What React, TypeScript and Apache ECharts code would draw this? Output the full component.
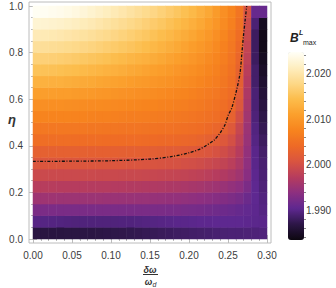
import { useEffect, useRef } from 'react';
import * as echarts from 'echarts';

// column centres (δω/ω_d) and row centres (η) of the density grid
const xCenters = [0.005, 0.015, 0.025, 0.035, 0.045, 0.055, 0.065, 0.075, 0.085, 0.095, 0.105, 0.115, 0.125, 0.135, 0.145, 0.155, 0.165, 0.175, 0.185, 0.195, 0.205, 0.215, 0.225, 0.235, 0.245, 0.255, 0.265, 0.275, 0.285, 0.295];
const etaCenters = [0.025, 0.075, 0.125, 0.175, 0.225, 0.275, 0.325, 0.375, 0.425, 0.475, 0.525, 0.575, 0.625, 0.675, 0.725, 0.775, 0.825, 0.875, 0.925, 0.975];

// B^L_max, one row per η
const r0025 = [1.9865, 1.9865, 1.9865, 1.9865, 1.9866, 1.9866, 1.9867, 1.9867, 1.9868, 1.9869, 1.987, 1.9871, 1.9872, 1.9873, 1.9875, 1.9876, 1.9878, 1.9879, 1.9881, 1.9882, 1.9884, 1.9885, 1.9886, 1.9888, 1.9889, 1.989, 1.989, 1.9891, 1.9892, 1.9893];
const r0075 = [1.9898, 1.9897, 1.9896, 1.9895, 1.9894, 1.9893, 1.9893, 1.9893, 1.9893, 1.9893, 1.9893, 1.9894, 1.9894, 1.9895, 1.9896, 1.9897, 1.9898, 1.9899, 1.99, 1.99, 1.9901, 1.9902, 1.9902, 1.9903, 1.9903, 1.9903, 1.9903, 1.9902, 1.9901, 1.99];
const r0125 = [1.9925, 1.9925, 1.9925, 1.9924, 1.9924, 1.9924, 1.9924, 1.9924, 1.9924, 1.9924, 1.9924, 1.9924, 1.9924, 1.9924, 1.9924, 1.9924, 1.9924, 1.9923, 1.9923, 1.9922, 1.9921, 1.992, 1.9918, 1.9916, 1.9914, 1.9912, 1.9909, 1.9906, 1.9902, 1.9897];
const r0175 = [1.9952, 1.9952, 1.9952, 1.9951, 1.9951, 1.9951, 1.995, 1.995, 1.995, 1.9949, 1.9949, 1.9948, 1.9948, 1.9947, 1.9947, 1.9946, 1.9945, 1.9944, 1.9943, 1.9942, 1.994, 1.9938, 1.9936, 1.9933, 1.993, 1.9926, 1.9922, 1.9913, 1.9903, 1.9895];
const r0225 = [1.9973, 1.9973, 1.9973, 1.9972, 1.9972, 1.9972, 1.9972, 1.9971, 1.9971, 1.9971, 1.997, 1.997, 1.9969, 1.9969, 1.9968, 1.9967, 1.9966, 1.9965, 1.9964, 1.9962, 1.996, 1.9958, 1.9955, 1.9952, 1.9948, 1.9943, 1.9938, 1.9925, 1.9903, 1.9892];
const r0275 = [1.9992, 1.9992, 1.9992, 1.9992, 1.9992, 1.9992, 1.9992, 1.9992, 1.9991, 1.9991, 1.9991, 1.999, 1.999, 1.999, 1.9989, 1.9988, 1.9987, 1.9986, 1.9985, 1.9983, 1.9981, 1.9979, 1.9976, 1.9972, 1.9968, 1.9962, 1.9954, 1.9935, 1.9902, 1.989];
const r0325 = [2.001, 2.001, 2.001, 2.001, 2.001, 2.001, 2.001, 2.001, 2.001, 2.0009, 2.0009, 2.0009, 2.0008, 2.0008, 2.0007, 2.0006, 2.0005, 2.0004, 2.0003, 2.0001, 1.9999, 1.9996, 1.9992, 1.9988, 1.9983, 1.9976, 1.9964, 1.994, 1.99, 1.9888];
const r0375 = [2.0027, 2.0027, 2.0027, 2.0027, 2.0027, 2.0027, 2.0027, 2.0026, 2.0026, 2.0026, 2.0026, 2.0025, 2.0025, 2.0025, 2.0024, 2.0023, 2.0022, 2.0021, 2.002, 2.0018, 2.0016, 2.0013, 2.0009, 2.0004, 1.9997, 1.9988, 1.9972, 1.9943, 1.99, 1.9885];
const r0425 = [2.0046, 2.0046, 2.0046, 2.0046, 2.0046, 2.0045, 2.0045, 2.0045, 2.0045, 2.0044, 2.0044, 2.0044, 2.0043, 2.0043, 2.0042, 2.0041, 2.004, 2.0039, 2.0038, 2.0036, 2.0034, 2.0031, 2.0027, 2.0021, 2.0013, 2.0001, 1.998, 1.9947, 1.9897, 1.988];
const r0475 = [2.006, 2.006, 2.006, 2.006, 2.0059, 2.0059, 2.0059, 2.0058, 2.0058, 2.0057, 2.0057, 2.0056, 2.0055, 2.0055, 2.0054, 2.0053, 2.0052, 2.0051, 2.005, 2.0048, 2.0046, 2.0044, 2.004, 2.0035, 2.0027, 2.0015, 1.9988, 1.995, 1.9895, 1.9875];
const r0525 = [2.0076, 2.0076, 2.0076, 2.0075, 2.0075, 2.0074, 2.0074, 2.0073, 2.0072, 2.0071, 2.007, 2.0069, 2.0068, 2.0067, 2.0066, 2.0065, 2.0063, 2.0062, 2.006, 2.0058, 2.0056, 2.0053, 2.005, 2.0046, 2.004, 2.0028, 2.0, 1.9955, 1.9892, 1.987];
const r0575 = [2.009, 2.009, 2.0089, 2.0089, 2.0088, 2.0087, 2.0086, 2.0085, 2.0084, 2.0083, 2.0082, 2.008, 2.0079, 2.0078, 2.0076, 2.0075, 2.0073, 2.0071, 2.0069, 2.0067, 2.0064, 2.0061, 2.0057, 2.0052, 2.0046, 2.0037, 2.0012, 1.996, 1.989, 1.9865];
const r0625 = [2.011, 2.0109, 2.0109, 2.0108, 2.0107, 2.0105, 2.0104, 2.0102, 2.01, 2.0098, 2.0096, 2.0094, 2.0092, 2.009, 2.0088, 2.0086, 2.0083, 2.0081, 2.0078, 2.0075, 2.0072, 2.0068, 2.0064, 2.0059, 2.0052, 2.0043, 2.002, 1.9965, 1.989, 1.986];
const r0675 = [2.0132, 2.0131, 2.013, 2.0129, 2.0127, 2.0125, 2.0123, 2.0121, 2.0118, 2.0116, 2.0113, 2.0111, 2.0108, 2.0105, 2.0102, 2.0099, 2.0096, 2.0093, 2.0089, 2.0086, 2.0082, 2.0077, 2.0072, 2.0066, 2.0058, 2.0048, 2.0025, 1.997, 1.9885, 1.9855];
const r0725 = [2.0152, 2.0151, 2.015, 2.0148, 2.0146, 2.0144, 2.0141, 2.0138, 2.0135, 2.0132, 2.0129, 2.0126, 2.0122, 2.0119, 2.0115, 2.0111, 2.0107, 2.0103, 2.0099, 2.0094, 2.0089, 2.0084, 2.0078, 2.0071, 2.0062, 2.0052, 2.003, 1.9975, 1.9885, 1.985];
const r0775 = [2.017, 2.0169, 2.0168, 2.0166, 2.0164, 2.0161, 2.0158, 2.0155, 2.0152, 2.0149, 2.0145, 2.0141, 2.0137, 2.0133, 2.0129, 2.0125, 2.012, 2.0115, 2.011, 2.0105, 2.0099, 2.0092, 2.0085, 2.0077, 2.0067, 2.0055, 2.0035, 1.998, 1.988, 1.9845];
const r0825 = [2.019, 2.0189, 2.0187, 2.0185, 2.0183, 2.018, 2.0177, 2.0174, 2.017, 2.0166, 2.0162, 2.0158, 2.0154, 2.0149, 2.0144, 2.0139, 2.0133, 2.0127, 2.0121, 2.0115, 2.0108, 2.0101, 2.0093, 2.0083, 2.0072, 2.0059, 2.004, 1.9985, 1.988, 1.984];
const r0875 = [2.0208, 2.0207, 2.0205, 2.0203, 2.02, 2.0197, 2.0194, 2.019, 2.0186, 2.0182, 2.0177, 2.0172, 2.0167, 2.0162, 2.0157, 2.0151, 2.0145, 2.0139, 2.0132, 2.0125, 2.0118, 2.011, 2.0101, 2.009, 2.0078, 2.0064, 2.0045, 1.999, 1.988, 1.984];
const r0925 = [2.0225, 2.0224, 2.0222, 2.022, 2.0217, 2.0214, 2.021, 2.0206, 2.0201, 2.0196, 2.0191, 2.0186, 2.018, 2.0175, 2.0169, 2.0163, 2.0157, 2.015, 2.0143, 2.0136, 2.0128, 2.012, 2.011, 2.0098, 2.0085, 2.007, 2.005, 1.9995, 1.989, 1.9845];
const r0975 = [2.0245, 2.0244, 2.0242, 2.024, 2.0237, 2.0233, 2.0228, 2.0223, 2.0218, 2.0213, 2.0207, 2.0201, 2.0195, 2.0189, 2.0183, 2.0177, 2.017, 2.0163, 2.0156, 2.0148, 2.014, 2.013, 2.012, 2.0105, 2.009, 2.0075, 2.0055, 2.0005, 1.991, 1.991];
const bRows = [r0025, r0075, r0125, r0175, r0225, r0275, r0325, r0375, r0425, r0475, r0525, r0575, r0625, r0675, r0725, r0775, r0825, r0875, r0925, r0975];

// dash-dotted boundary curve
const curveX = [0, 0.05, 0.1, 0.15, 0.18, 0.2, 0.214, 0.2227, 0.2324, 0.24, 0.246, 0.2504, 0.2547, 0.261, 0.2654, 0.2676, 0.2697, 0.272, 0.274];
const curveY = [0.333, 0.334, 0.336, 0.343, 0.355, 0.37, 0.386, 0.403, 0.425, 0.456, 0.489, 0.532, 0.561, 0.639, 0.711, 0.79, 0.868, 0.94, 1.0];

// ticks
const xTickLabels = [0, 0.05, 0.1, 0.15, 0.2, 0.25, 0.3];
const xMinorTicks = [0.01, 0.02, 0.03, 0.04, 0.06, 0.07, 0.08, 0.09, 0.11, 0.12, 0.13, 0.14, 0.16, 0.17, 0.18, 0.19, 0.21, 0.22, 0.23, 0.24, 0.26, 0.27, 0.28, 0.29];
const yTickLabels = [0, 0.2, 0.4, 0.6, 0.8, 1.0];
const yMinorTicks = [0.05, 0.1, 0.15, 0.25, 0.3, 0.35, 0.45, 0.5, 0.55, 0.65, 0.7, 0.75, 0.85, 0.9, 0.95];
const barTickLabels = [1.99, 2.0, 2.01, 2.02];
const barMinorTicks = [1.984, 1.986, 1.988, 1.992, 1.994, 1.996, 1.998, 2.002, 2.004, 2.006, 2.008, 2.012, 2.014, 2.016, 2.018, 2.022, 2.024];
const bMin = 1.9834;
const bMax = 2.0248;

const palette = ['#0c0710', '#2c1646', '#5e2890', '#8c2f80', '#b63c5e', '#d95440', '#ee6a26', '#f7841e', '#fb9f2c', '#fcbd4c', '#fdd888', '#feeec0', '#fffff8'];

const FONT = 'Liberation Sans';
const TXT = '#3c3c3c';
const FRAME = '#bcbcbc';

export default function App() {
  const ref = useRef<HTMLDivElement>(null);
  useEffect(() => {
    document.body.style.margin = '0';
    const chart = echarts.init(ref.current!, null, { renderer: 'svg' });

    // inner plot box and 4px Mathematica-style padding to the frame
    const inL = 33, inT = 6, inW = 234, inH = 233, pad = 4;
    const xLo = -pad * 0.3 / inW, xHi = 0.3 + pad * 0.3 / inW;
    const yLo = -pad / inH, yHi = 1 + pad / inH;

    const heat: number[][] = [];
    bRows.forEach((row, j) => row.forEach((v, i) => heat.push([i, j, v])));

    const frameX = (pos: string, major: boolean, labels: boolean) => ({
      type: 'value', gridIndex: 0, min: xLo, max: xHi, position: pos,
      axisLine: { show: false }, splitLine: { show: false },
      axisTick: { show: true, inside: true, length: major ? 4 : 2, customValues: major ? xTickLabels : xMinorTicks, lineStyle: { color: FRAME, width: 1 } },
      axisLabel: labels ? { show: true, customValues: xTickLabels, formatter: (v: number) => v.toFixed(2), fontSize: 10, color: TXT, fontFamily: FONT, margin: 7 } : { show: false },
    });
    const frameY = (pos: string, major: boolean, labels: boolean) => ({
      type: 'value', gridIndex: 0, min: yLo, max: yHi, position: pos,
      axisLine: { show: false }, splitLine: { show: false },
      axisTick: { show: true, inside: true, length: major ? 4 : 2, customValues: major ? yTickLabels : yMinorTicks, lineStyle: { color: FRAME, width: 1 } },
      axisLabel: labels ? { show: true, customValues: yTickLabels, formatter: (v: number) => v.toFixed(1), fontSize: 10, color: TXT, fontFamily: FONT, margin: 6 } : { show: false },
    });

    chart.setOption({
      animation: false,
      textStyle: { fontFamily: FONT },
      grid: [
        { left: inL - pad, top: inT - pad, width: inW + 2 * pad, height: inH + 2 * pad, show: true, borderColor: FRAME, borderWidth: 1, backgroundColor: 'transparent' },
        { left: inL, top: inT, width: inW, height: inH },
        { left: 288, top: 52, width: 16, height: 188 },
      ],
      xAxis: [
        frameX('bottom', true, true),
        frameX('bottom', false, false),
        frameX('top', true, false),
        frameX('top', false, false),
        { type: 'category', gridIndex: 1, data: xCenters, show: false },
        { type: 'value', gridIndex: 2, show: false, min: 0, max: 1 },
      ],
      yAxis: [
        frameY('left', true, true),
        frameY('left', false, false),
        frameY('right', true, false),
        frameY('right', false, false),
        { type: 'category', gridIndex: 1, data: etaCenters, show: false },
        {
          type: 'value', gridIndex: 2, min: bMin, max: bMax, position: 'right',
          axisLine: { show: false }, splitLine: { show: false },
          axisTick: { show: true, length: 3, customValues: barTickLabels, lineStyle: { color: '#888' } },
          axisLabel: { show: true, customValues: barTickLabels, formatter: (v: number) => v.toFixed(3), fontSize: 10, color: TXT, fontFamily: FONT, margin: 2 },
        },
        {
          type: 'value', gridIndex: 2, min: bMin, max: bMax, position: 'right',
          axisLine: { show: false }, splitLine: { show: false },
          axisTick: { show: true, length: 2, customValues: barMinorTicks, lineStyle: { color: '#888' } },
          axisLabel: { show: false },
        },
      ],
      visualMap: {
        type: 'continuous', min: bMin, max: bMax, seriesIndex: 0, calculable: false, hoverLink: false,
        orient: 'vertical', left: 288, top: 52, itemWidth: 16, itemHeight: 188, padding: 0,
        inRange: { color: palette }, textStyle: { color: 'transparent' }, text: ['', ''],
      },
      series: [
        { type: 'heatmap', xAxisIndex: 4, yAxisIndex: 4, data: heat, itemStyle: { borderWidth: 0 }, emphasis: { disabled: true } },
        {
          type: 'line', xAxisIndex: 0, yAxisIndex: 0, symbol: 'none', smooth: 0.3,
          data: curveX.map((x, k) => [x, curveY[k]]),
          lineStyle: { color: '#111', width: 1.3, type: [3, 1.6, 1, 1.6] },
        },
      ],
      graphic: [
        { type: 'text', left: 8, top: 113, style: { text: 'η', fontSize: 13, fontWeight: 'bold', fontStyle: 'italic', fill: '#333', fontFamily: FONT } },
        { type: 'text', x: 150, y: 265, style: { text: 'δω', fontSize: 9, fontWeight: 'bold', fontStyle: 'italic', fill: '#333', fontFamily: FONT, align: 'center', verticalAlign: 'top' } },
        { type: 'line', shape: { x1: 143, y1: 274.5, x2: 158, y2: 274.5 }, style: { stroke: '#333', lineWidth: 1 } },
        { type: 'text', x: 148.5, y: 277, style: { text: 'ω', fontSize: 9, fontWeight: 'bold', fontStyle: 'italic', fill: '#333', fontFamily: FONT, align: 'center', verticalAlign: 'top' } },
        { type: 'text', x: 154.5, y: 281, style: { text: 'd', fontSize: 7, fontStyle: 'italic', fill: '#333', fontFamily: FONT, align: 'center', verticalAlign: 'top' } },
        { type: 'text', x: 290, y: 32, style: { text: 'B', fontSize: 12, fontWeight: 'bold', fontStyle: 'italic', fill: '#222', fontFamily: FONT } },
        { type: 'text', x: 299, y: 29, style: { text: 'L', fontSize: 7, fontWeight: 'bold', fontStyle: 'italic', fill: '#222', fontFamily: FONT } },
        { type: 'text', x: 303, y: 39, style: { text: 'max', fontSize: 7, fill: '#222', fontFamily: FONT } },
      ],
    });
    return () => chart.dispose();
  }, []);
  return <div ref={ref} style={{ width: 336, height: 288 }} />;
}
